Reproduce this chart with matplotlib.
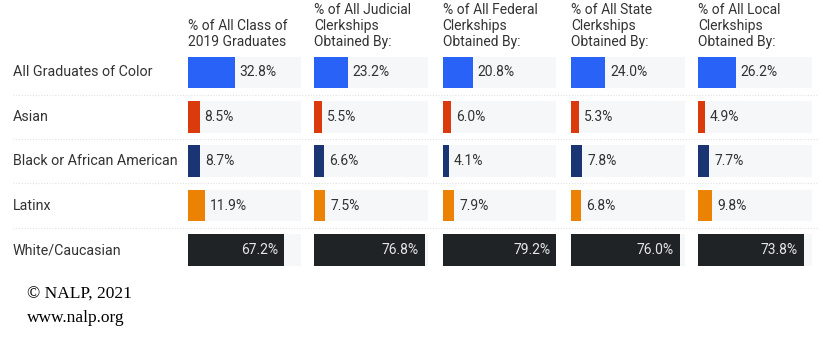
import matplotlib
matplotlib.use("Agg")
import matplotlib.pyplot as plt

plt.rcParams['font.family'] = ['Roboto', 'DejaVu Sans']

groups = ["All Graduates of Color", "Asian", "Black or African American", "Latinx", "White/Caucasian"]
headers = [
    "% of All Class of\n2019 Graduates",
    "% of All Judicial\nClerkships\nObtained By:",
    "% of All Federal\nClerkships\nObtained By:",
    "% of All State\nClerkships\nObtained By:",
    "% of All Local\nClerkships\nObtained By:",
]
class_2019 = [32.8, 8.5, 8.7, 11.9, 67.2]
judicial = [23.2, 5.5, 6.6, 7.5, 76.8]
federal = [20.8, 6.0, 4.1, 7.9, 79.2]
state = [24.0, 5.3, 7.8, 6.8, 76.0]
local = [26.2, 4.9, 7.7, 9.8, 73.8]
columns = [class_2019, judicial, federal, state, local]

colors = ["#2962f6", "#db3b0c", "#1b3474", "#ec8203", "#1f2326"]
track = "#f5f7f9"
txt = "#333333"

W, H = 823, 340
fig = plt.figure(figsize=(W / 100, H / 100), dpi=100)

ymin_px, ymax_px = 50.3, 272.2
bottom = 1 - ymax_px / H
height = (ymax_px - ymin_px) / H
vmax = max(max(c) for c in columns)

# background axes: row labels + dotted separators
bg = fig.add_axes([0, bottom, 1, height])
bg.set_xlim(0, W)
bg.set_ylim(len(groups) - 0.5, -0.5)
bg.axis("off")
for k in range(len(groups) - 1):
    bg.plot([13, 818], [k + 0.5, k + 0.5], color="#e2e2e2", lw=0.8, ls=(0, (1, 1.5)))
for i, g in enumerate(groups):
    bg.text(13, i, g, va="center", ha="left", fontsize=10.3, color=txt)

lefts = [187.5, 314.4, 442.7, 571.0, 698.0]
col_w = 113.6
ypos = list(range(len(groups)))
for left, head, vals in zip(lefts, headers, columns):
    ax = fig.add_axes([left / W, bottom, col_w / W, height])
    ax.set_xlim(0, vmax)
    ax.set_ylim(len(groups) - 0.5, -0.5)
    ax.axis("off")
    ax.barh(ypos, [vmax] * len(groups), height=0.71, color=track)
    ax.barh(ypos, vals, height=0.71, color=colors)
    for i, v in enumerate(vals):
        if i == len(vals) - 1:
            ax.annotate(f"{v:.1f}%", (v, i), xytext=(-6, 0), textcoords="offset pixels",
                        ha="right", va="center", fontsize=10, color="#e6e6e6")
        else:
            ax.annotate(f"{v:.1f}%", (v, i), xytext=(5, 0), textcoords="offset pixels",
                        ha="left", va="center", fontsize=10, color=txt)
    ax.annotate(head, (0, 1), xycoords="axes fraction", xytext=(0, 1),
                textcoords="offset pixels", ha="left", va="bottom",
                fontsize=10, color=txt, linespacing=1.2)

fig.text(27 / W, 1 - 299 / H, "\u00a9 NALP, 2021", family="Liberation Serif",
         fontsize=12.5, color="black", va="baseline")
fig.text(27 / W, 1 - 322.5 / H, "www.nalp.org", family="Liberation Serif",
         fontsize=12.5, color="black", va="baseline")

fig.savefig("out.png", dpi=100, facecolor="white")
